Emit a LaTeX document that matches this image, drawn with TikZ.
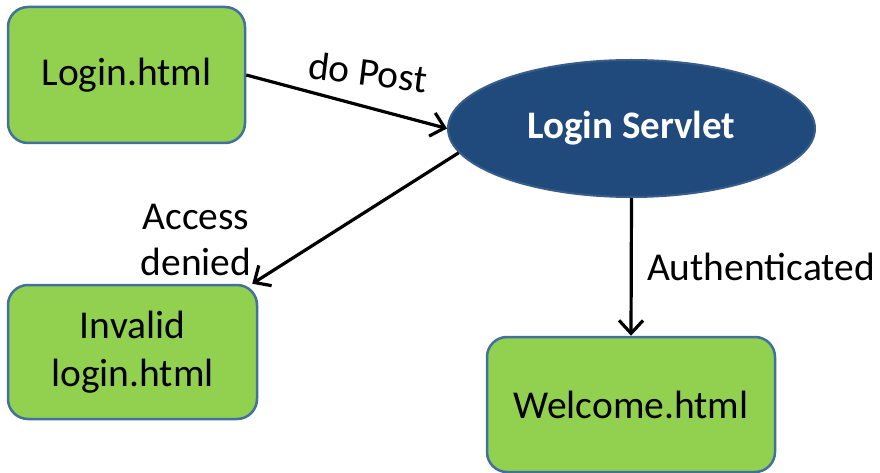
\documentclass[tikz,border=0pt]{standalone}
\usepackage{fontspec}
\setmainfont{Carlito}
\usepackage{tikz}
\usetikzlibrary{shapes,arrows,arrows.meta,positioning}

\definecolor{pagegreen}{HTML}{92D050}
\definecolor{pageborder}{HTML}{41719C}
\definecolor{servletblue}{HTML}{214A7C}
\definecolor{servletborder}{HTML}{385D8A}

\tikzset{
  page/.style={draw=pageborder,line width=2.5pt,fill=pagegreen,rounded corners=20pt,
    align=center,inner sep=0pt,font=\fontsize{39.5}{48}\selectfont},
  servlet/.style={ellipse,draw=servletborder,line width=2pt,fill=servletblue,
    text=white,inner sep=0pt,font=\fontsize{39}{48}\selectfont\bfseries},
  lbl/.style={align=center,inner sep=0pt,font=\fontsize{39.5}{46}\selectfont},
  flow/.style={line width=3.2pt,-{Straight Barb[length=13pt,width=24pt]}}
}

\begin{document}
\begin{tikzpicture}[x=1pt,y=-1pt]
      \useasboundingbox[fill=white] (0,0) rectangle (880,473);
      \node[page,minimum width=237pt,minimum height=136pt](login) at (126.5,75){Login.html};
      \node[servlet,minimum width=367pt,minimum height=137pt](servlet) at (631.5,128.5){Login Servlet};
      \node[page,minimum width=249pt,minimum height=134pt](invalid) at (132.5,352){Invalid\\login.html};
      \node[page,minimum width=288pt,minimum height=135pt](welcome) at (631,404.5){Welcome.html};
      %
      \node[lbl,rotate=-7](dopost) at (368,72){do Post};
      \node[lbl](denied) at (196,240){Access\\denied};
      \node[lbl](auth) at (761,267){Authenticated};
      %
      \draw[flow] (login.east) -- (servlet.west);
      \draw[flow] (servlet.188) -- ([xshift=-6pt]invalid.north east);
      \draw[flow] (servlet.south) -- (welcome.north);
    \end{tikzpicture}
\end{document}
